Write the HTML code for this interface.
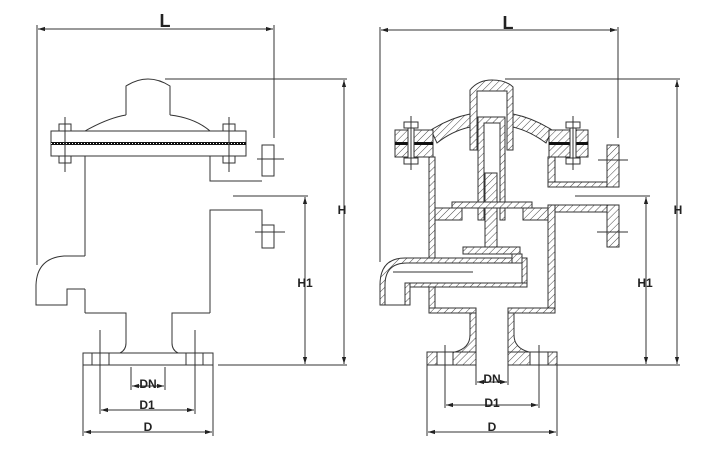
<!DOCTYPE html>
<html><head><meta charset="utf-8"><style>
html,body{margin:0;padding:0;background:#fff;}
svg{display:block;}
text{font-family:"Liberation Sans",sans-serif;font-weight:bold;fill:#222;text-anchor:middle;}
</style></head><body>
<svg width="709" height="450" viewBox="0 0 709 450" xmlns="http://www.w3.org/2000/svg">
<defs>
<pattern id="h" patternUnits="userSpaceOnUse" width="5" height="5" patternTransform="rotate(45)">
<rect width="5" height="5" fill="#fff"/><line x1="0" y1="0" x2="0" y2="5" stroke="#333" stroke-width="0.9"/>
</pattern>
<marker id="a" viewBox="0 0 10 10" refX="10" refY="5" markerWidth="7" markerHeight="7" orient="auto-start-reverse"><path d="M0,2 L10,5 L0,8 Z" fill="#222"/></marker>
</defs>
<g stroke="#333" stroke-width="1" fill="none">
<!-- LEFT DRAWING -->
<path d="M126,115 V86 Q148,72 170,86 V115"/>
<path d="M85,131 Q108,118 126,115 M170,115 Q195,118 210,131"/>
<rect x="51" y="131" width="195" height="25" fill="#fff"/>
<line x1="51" y1="143.5" x2="246" y2="143.5" stroke="#111" stroke-width="3"/>
<line x1="51" y1="143.5" x2="246" y2="143.5" stroke="#fff" stroke-width="1" stroke-dasharray="1 2"/>
<rect x="59" y="124" width="12" height="7" fill="#fff"/><rect x="59" y="156" width="12" height="7" fill="#fff"/>
<rect x="223" y="124" width="12" height="7" fill="#fff"/><rect x="223" y="156" width="12" height="7" fill="#fff"/>
<line x1="65" y1="117" x2="65" y2="172"/><line x1="229" y1="117" x2="229" y2="172"/>
<path d="M85,156 V256 M85,289 V313"/>
<path d="M210,156 V181 H262"/>
<rect x="262" y="145" width="12" height="31"/>
<path d="M210,313 V210 H262 V225"/>
<rect x="262" y="225" width="12" height="23"/>
<line x1="257" y1="159" x2="284" y2="159"/><line x1="255" y1="232" x2="285" y2="232"/>
<path d="M85,256 H64 Q37,258 36,285 V305 H67 V289 H85"/>
<path d="M85,313 H126 V343 Q126,350 120,353 M210,313 H172 V343 Q172,350 178,353"/>
<rect x="83" y="353" width="130" height="12"/>
<path d="M92,353 V365 M109,353 V365 M186,353 V365 M203,353 V365"/>
<line x1="100" y1="330" x2="100" y2="414"/><line x1="195" y1="330" x2="195" y2="414"/>
<!-- left dims -->
<line x1="37" y1="25" x2="37" y2="265"/><line x1="274" y1="25" x2="274" y2="138"/>
<line x1="38" y1="29" x2="273" y2="29" marker-start="url(#a)" marker-end="url(#a)"/>
<line x1="165" y1="79" x2="347" y2="79"/><line x1="218" y1="365" x2="347" y2="365"/>
<line x1="344" y1="80" x2="344" y2="364" marker-start="url(#a)" marker-end="url(#a)"/>
<line x1="233" y1="196" x2="308" y2="196"/>
<line x1="305" y1="197" x2="305" y2="364" marker-start="url(#a)" marker-end="url(#a)"/>
<line x1="131" y1="367" x2="131" y2="390"/><line x1="165" y1="367" x2="165" y2="390"/>
<line x1="132" y1="386" x2="164" y2="386" marker-start="url(#a)" marker-end="url(#a)"/>
<line x1="101" y1="410" x2="194" y2="410" marker-start="url(#a)" marker-end="url(#a)"/>
<line x1="83" y1="365" x2="83" y2="436"/><line x1="213" y1="365" x2="213" y2="436"/>
<line x1="84" y1="432" x2="212" y2="432" marker-start="url(#a)" marker-end="url(#a)"/>

<!-- RIGHT DRAWING -->
<g fill="url(#h)" fill-rule="evenodd">
<path d="M470,150 V90 Q478,80 492,80 Q506,80 513,87 V150 H507 V91 H477 V150 Z"/>
<path d="M431,130 Q450,118 470,114 V127 Q452,131 437,143 Z"/>
<path d="M513,114 Q533,118 552,130 L546,143 Q530,131 513,127 Z"/>
<rect x="395" y="130" width="38" height="27"/>
<rect x="549" y="130" width="39" height="27"/>
<path d="M478,220 V117 H505 V220 H500 V123 H484 V220 Z"/>
<rect x="485" y="173" width="12" height="74"/>
<rect x="452" y="202" width="80" height="6"/>
<rect x="429" y="157" width="6" height="101"/>
<rect x="435" y="208" width="27" height="12"/>
<rect x="523" y="208" width="32" height="12"/>
<rect x="548" y="157" width="7" height="30"/>
<rect x="548" y="182" width="60" height="5"/>
<rect x="607" y="145" width="12" height="42"/>
<rect x="548" y="205" width="60" height="7"/>
<rect x="548" y="205" width="7" height="108"/>
<rect x="607" y="205" width="12" height="42"/>
<rect x="463" y="247" width="57" height="7"/>
<path d="M380,305 V285 Q380,258 405,258 H512 V263 H407 Q385,263 385,285 V305 Z"/>
<rect x="512" y="254" width="10" height="9"/>
<rect x="522" y="258" width="5" height="29"/>
<rect x="407" y="283" width="120" height="4"/>
<rect x="405" y="283" width="5" height="22"/>
<rect x="429" y="287" width="6" height="26"/>
<rect x="429" y="308" width="47" height="5"/>
<rect x="508" y="308" width="47" height="5"/>
<path d="M470,313 H476 V352 H455 Q470,348 470,335 Z"/>
<path d="M508,313 H514 V335 Q514,348 529,352 H508 Z"/>
<rect x="427" y="352" width="49" height="13"/>
<rect x="508" y="352" width="49" height="13"/>
</g>
<rect x="437" y="352" width="16" height="13" fill="#fff"/>
<rect x="530" y="352" width="18" height="13" fill="#fff"/>
<line x1="395" y1="143.5" x2="433" y2="143.5" stroke="#111" stroke-width="3"/>
<line x1="549" y1="143.5" x2="588" y2="143.5" stroke="#111" stroke-width="3"/>
<rect x="408" y="127" width="6" height="33" fill="#fff"/>
<rect x="404" y="122" width="14" height="6" fill="#fff"/><rect x="404" y="158" width="14" height="6" fill="#fff"/>
<line x1="411" y1="116" x2="411" y2="170"/>
<rect x="570" y="127" width="6" height="33" fill="#fff"/>
<rect x="566" y="122" width="14" height="6" fill="#fff"/><rect x="566" y="158" width="14" height="6" fill="#fff"/>
<line x1="573" y1="116" x2="573" y2="170"/>
<line x1="598" y1="160" x2="628" y2="160"/><line x1="597" y1="232" x2="628" y2="232"/>
<line x1="393" y1="272" x2="473" y2="272"/>
<line x1="380" y1="305" x2="410" y2="305"/>
<line x1="445" y1="345" x2="445" y2="408"/><line x1="539" y1="345" x2="539" y2="408"/>
<!-- right dims -->
<line x1="380" y1="27" x2="380" y2="262"/><line x1="618" y1="27" x2="618" y2="138"/>
<line x1="381" y1="30" x2="617" y2="30" marker-start="url(#a)" marker-end="url(#a)"/>
<line x1="505" y1="79" x2="680" y2="79"/><line x1="557" y1="365" x2="680" y2="365"/>
<line x1="677" y1="80" x2="677" y2="364" marker-start="url(#a)" marker-end="url(#a)"/>
<line x1="575" y1="196" x2="650" y2="196"/>
<line x1="646" y1="197" x2="646" y2="364" marker-start="url(#a)" marker-end="url(#a)"/>
<line x1="476" y1="365" x2="476" y2="385"/><line x1="508" y1="365" x2="508" y2="385"/>
<line x1="477" y1="382" x2="507" y2="382" marker-start="url(#a)" marker-end="url(#a)"/>
<line x1="446" y1="405" x2="538" y2="405" marker-start="url(#a)" marker-end="url(#a)"/>
<line x1="427" y1="365" x2="427" y2="436"/><line x1="557" y1="365" x2="557" y2="436"/>
<line x1="428" y1="432" x2="556" y2="432" marker-start="url(#a)" marker-end="url(#a)"/>
</g>
<g>
<text x="165" y="27" font-size="18">L</text>
<text x="342" y="214" font-size="12">H</text>
<text x="305" y="287" font-size="12">H1</text>
<text x="148" y="388" font-size="12">DN</text>
<text x="147" y="409" font-size="12">D1</text>
<text x="148" y="431" font-size="12">D</text>
<text x="508" y="29" font-size="18">L</text>
<text x="678" y="214" font-size="12">H</text>
<text x="645" y="287" font-size="12">H1</text>
<text x="492" y="383" font-size="12">DN</text>
<text x="492" y="407" font-size="12">D1</text>
<text x="492" y="431" font-size="12">D</text>
</g>
</svg>
</body></html>
